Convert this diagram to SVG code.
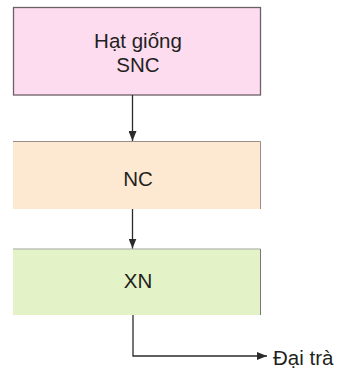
<svg xmlns="http://www.w3.org/2000/svg" width="343" height="371" viewBox="0 0 343 371">
<style>
text{font-family:"Liberation Sans",Arial,sans-serif;font-size:20.5px;fill:#231f20;text-anchor:middle}
.ln{fill:none;stroke:#2b2b2b;stroke-width:1.3}
</style>
<defs>
<marker id="ah" markerWidth="10" markerHeight="8" refX="10" refY="4" orient="auto" markerUnits="userSpaceOnUse">
<path d="M0,0 L10,4 L0,8 Z" fill="#2b2b2b"/>
</marker>
</defs>
<rect width="343" height="371" fill="#fff"/>
<g id="node-seed">
<rect x="13.5" y="7.5" width="247" height="87.5" fill="#fddcf0" stroke="#6d6068" stroke-width="1.3"/>
<text x="138" y="48">Hạt giống</text>
<text x="138" y="72">SNC</text>
</g>
<g id="node-nc">
<rect x="13" y="141" width="247.5" height="68" fill="#fde9d1"/>
<path d="M13,141.5 H260.5 V209" fill="none" stroke="#9a8c88" stroke-width="1"/>
<text x="138" y="186">NC</text>
</g>
<g id="node-xn">
<rect x="13" y="248.5" width="247.5" height="66.5" fill="#e4f2c8"/>
<path d="M13,249 H260.5 V315" fill="none" stroke="#aaaaaa" stroke-width="1"/>
<path d="M260.5,249 V315" fill="none" stroke="#777" stroke-width="1"/>
<text x="138" y="287.5">XN</text>
</g>
<g id="connectors">
<path class="ln" d="M132.5,95 V141" marker-end="url(#ah)"/>
<path class="ln" d="M132.5,209 V248.5" marker-end="url(#ah)"/>
<path class="ln" d="M133,315 V356 H267" marker-end="url(#ah)"/>
</g>
<text x="273" y="365" style="text-anchor:start">Đại trà</text>
</svg>
